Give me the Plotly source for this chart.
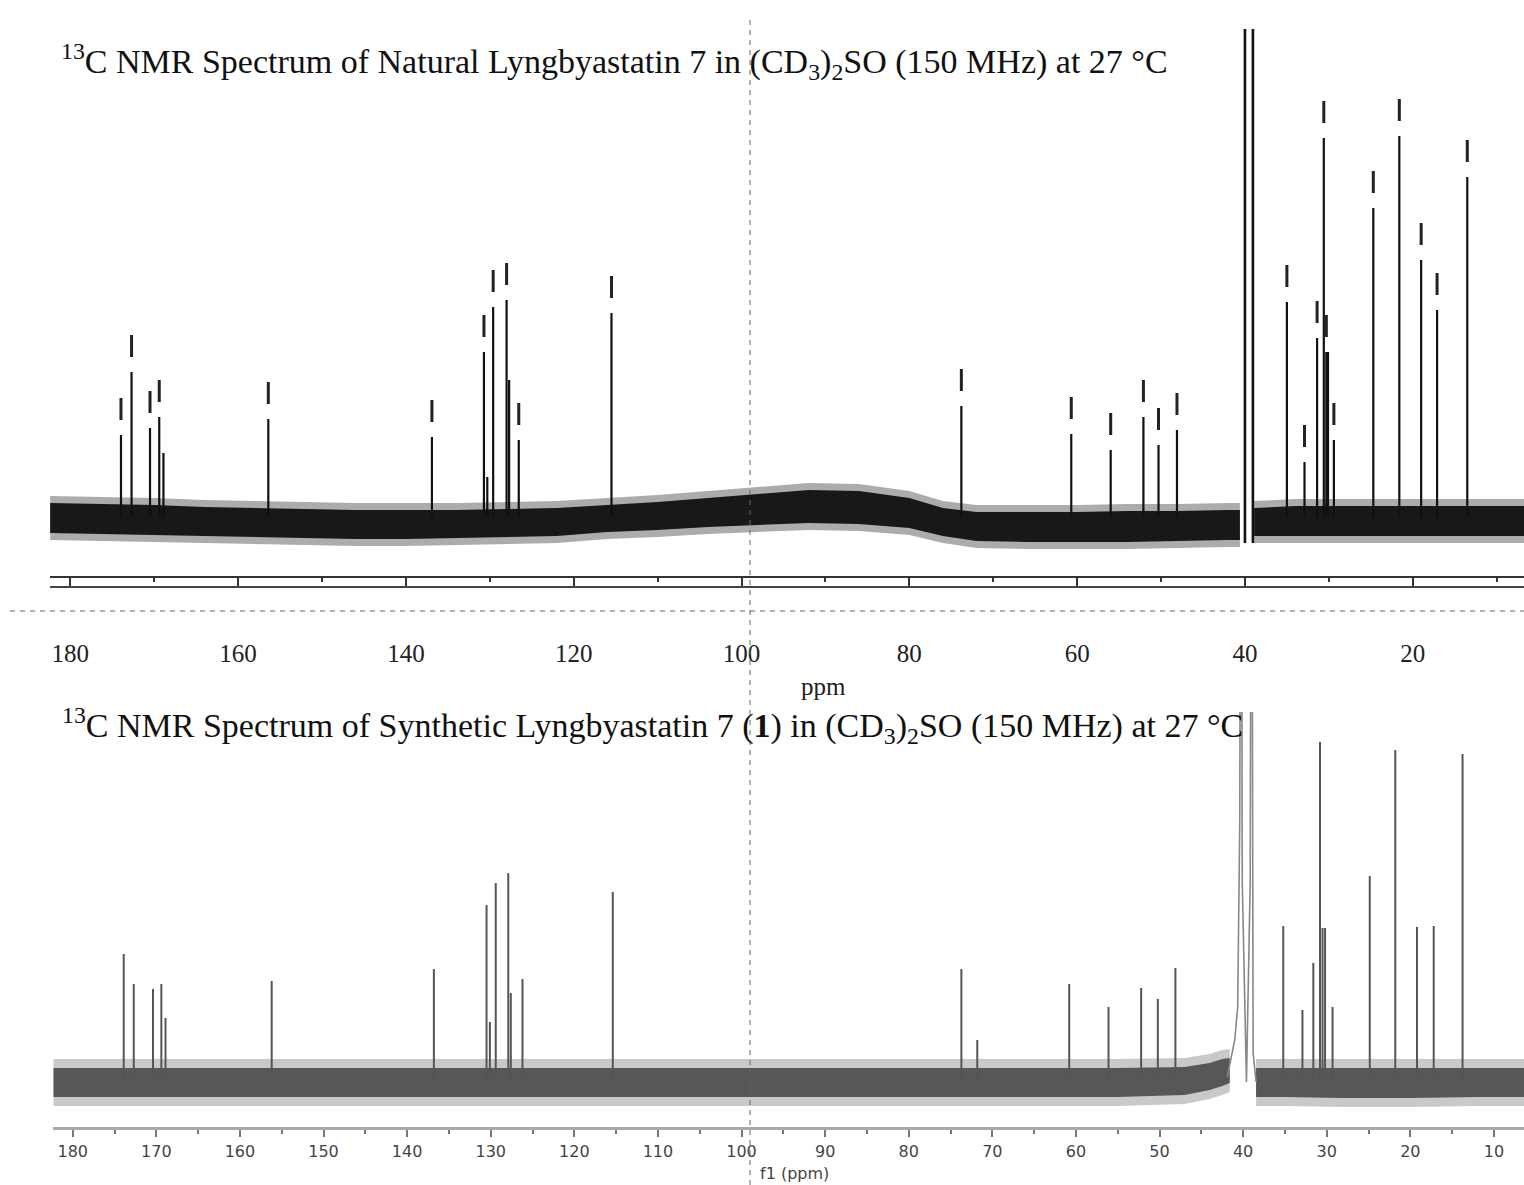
import plotly.graph_objects as go

W, H = 1524, 1185

# ---------------- data: natural (top) spectrum ----------------
nat_ppm = [173.96, 172.7, 170.5, 169.4, 168.9, 156.4, 136.9, 130.7, 130.3, 129.6, 128.0,
           127.7, 126.55, 115.5, 73.8, 60.7, 56.0, 52.1, 50.3, 48.1, 35.0, 32.9, 31.4,
           30.6, 30.3, 30.1, 29.4, 24.7, 21.6, 19.0, 17.1, 13.5]
nat_int = [82, 145, 89, 100, 64, 98, 80, 165, 40, 210, 217,
           137, 77, 204, 111, 83, 67, 100, 72, 87, 215, 55, 179,
           379, 165, 165, 77, 309, 381, 257, 207, 340]
nat_picked = [1, 1, 1, 1, 0, 1, 1, 1, 0, 1, 1,
              0, 1, 1, 1, 1, 1, 1, 1, 1, 1, 1, 1,
              1, 1, 0, 1, 1, 1, 1, 1, 1]
nat_solvent_ppm = [40.0, 39.05]
nat_solvent_low = [-26, -26]
nat_solvent_high = [600, 600]

# noise envelope of the natural spectrum
nat_noise_ppm_a = [182.4, 176, 170, 164, 158, 152, 146, 140, 134, 128, 122, 116, 110, 104,
                   98, 92, 86, 80, 76, 72, 66, 60, 54, 48, 42, 40.6]
nat_noise_up_a = [15, 14, 13, 11, 10, 9, 8, 8, 8, 9, 10, 13, 16, 20,
                  24, 28, 27, 20, 10, 6, 6, 6, 7, 7, 8, 8]
nat_noise_lo_a = [-17, -18, -19, -20, -21, -22, -23, -23, -22, -21, -20, -16, -14, -11,
                  -9, -7, -8, -12, -20, -25, -26, -26, -26, -25, -24, -24]
nat_noise_ppm_b = [38.9, 34, 28, 22, 16, 10, 6.7]
nat_noise_up_b = [10, 12, 12, 12, 12, 12, 12]
nat_noise_lo_b = [-20, -20, -20, -20, -20, -20, -20]

# ---------------- data: synthetic (bottom) spectrum ----------------
syn_ppm = [173.9, 172.7, 170.4, 169.4, 168.9, 156.2, 136.8, 130.5, 130.1, 129.4, 127.9,
           127.6, 126.2, 115.4, 73.7, 71.8, 60.8, 56.1, 52.2, 50.2, 48.1, 35.2, 32.9,
           31.6, 30.8, 30.5, 30.2, 29.3, 24.85, 21.8, 19.2, 17.2, 13.75]
syn_int = [128, 98, 93, 98, 64, 101, 113, 177, 60, 199, 209,
           89, 103, 190, 113, 42, 98, 75, 94, 83, 114, 156, 72,
           119, 340, 154, 154, 75, 206, 332, 155, 156, 328]
syn_solvent_ppm = [41.9, 41.5, 41.0, 40.65, 40.4, 40.25, 40.1, 39.6, 39.15, 39.0, 38.8, 38.45]
syn_solvent_int = [5, 22, 42, 75, 260, 800, 200, 0, 200, 800, 29, 0]

syn_noise_ppm_a = [182.3, 170, 150, 130, 110, 90, 70, 55, 47, 44, 42.5, 41.6]
syn_noise_up_a = [15, 15, 15, 15, 15, 15, 15, 15, 16, 20, 24, 25]
syn_noise_lo_a = [-16, -16, -16, -16, -16, -16, -16, -16, -14, -9, -5, -2]
syn_noise_ppm_b = [38.45, 35, 28, 20, 12, 6.4]
syn_noise_up_b = [15, 15, 15, 15, 15, 15]
syn_noise_lo_b = [-16, -16, -17, -17, -16, -16]

top_ticks = [180, 160, 140, 120, 100, 80, 60, 40, 20]
bot_ticks = [180, 170, 160, 150, 140, 130, 120, 110, 100, 90, 80, 70, 60, 50, 40, 30, 20, 10]

# ---------------- helpers ----------------
def sticks(xs, y0s, y1s):
    X, Y = [], []
    for p, a, b in zip(xs, y0s, y1s):
        X += [p, p, None]
        Y += [a, b, None]
    return X, Y

def band(xs, up, lo, pad=0):
    X = list(xs) + list(xs)[::-1]
    Y = [u + pad for u in up] + [l - pad for l in lo][::-1]
    return X, Y

fig = go.Figure()

# natural noise bands
for (px, pu, pl) in [(nat_noise_ppm_a, nat_noise_up_a, nat_noise_lo_a),
                     (nat_noise_ppm_b, nat_noise_up_b, nat_noise_lo_b)]:
    X, Y = band(px, pu, pl, pad=6)
    fig.add_trace(go.Scatter(x=X, y=Y, fill='toself', fillcolor='rgba(70,70,70,0.45)',
                             line=dict(width=0), mode='lines', xaxis='x', yaxis='y', hoverinfo='skip'))
    X, Y = band(px, pu, pl, pad=-1)
    fig.add_trace(go.Scatter(x=X, y=Y, fill='toself', fillcolor='#181818',
                             line=dict(width=0), mode='lines', xaxis='x', yaxis='y', hoverinfo='skip'))

# natural peaks
X, Y = sticks(nat_ppm, [0] * len(nat_ppm), nat_int)
fig.add_trace(go.Scatter(x=X, y=Y, mode='lines', line=dict(color='#111111', width=2.2),
                         xaxis='x', yaxis='y'))
# peak-pick marks above natural peaks
GAP, LEN = 15, 22
mk_x = [p for p, f in zip(nat_ppm, nat_picked) if f]
mk_h = [h for h, f in zip(nat_int, nat_picked) if f]
X, Y = sticks(mk_x, [h + GAP for h in mk_h], [h + GAP + LEN for h in mk_h])
fig.add_trace(go.Scatter(x=X, y=Y, mode='lines', line=dict(color='#222222', width=3),
                         xaxis='x', yaxis='y'))
# solvent (natural)
X, Y = sticks(nat_solvent_ppm, nat_solvent_low, nat_solvent_high)
fig.add_trace(go.Scatter(x=X, y=Y, mode='lines', line=dict(color='#111111', width=2.6),
                         xaxis='x', yaxis='y'))

# synthetic noise bands
for (px, pu, pl) in [(syn_noise_ppm_a, syn_noise_up_a, syn_noise_lo_a),
                     (syn_noise_ppm_b, syn_noise_up_b, syn_noise_lo_b)]:
    X, Y = band(px, pu, pl, pad=8)
    fig.add_trace(go.Scatter(x=X, y=Y, fill='toself', fillcolor='rgba(120,120,120,0.4)',
                             line=dict(width=0), mode='lines', xaxis='x2', yaxis='y2', hoverinfo='skip'))
    X, Y = band(px, pu, pl, pad=-1)
    fig.add_trace(go.Scatter(x=X, y=Y, fill='toself', fillcolor='#575757',
                             line=dict(width=0), mode='lines', xaxis='x2', yaxis='y2', hoverinfo='skip'))

# synthetic peaks
X, Y = sticks(syn_ppm, [0] * len(syn_ppm), syn_int)
fig.add_trace(go.Scatter(x=X, y=Y, mode='lines', line=dict(color='#555555', width=2),
                         xaxis='x2', yaxis='y2'))
fig.add_trace(go.Scatter(x=syn_solvent_ppm, y=syn_solvent_int, mode='lines',
                         line=dict(color='#888888', width=1.6), xaxis='x2', yaxis='y2'))

def py(row):
    return 1 - row / H

serif = 'Liberation Serif, Times New Roman, serif'
sans = 'DejaVu Sans, Verdana, sans-serif'

fig.update_layout(
    width=W, height=H, margin=dict(l=0, r=0, t=0, b=0),
    paper_bgcolor='white', plot_bgcolor='white', showlegend=False,
    xaxis=dict(domain=[50 / W, 1], range=[182.42, 6.74], anchor='free', position=py(577),
               showgrid=False, zeroline=False, showline=True, linecolor='#333333', linewidth=2,
               ticks='outside', ticklen=10, tickwidth=2, tickcolor='#333333',
               tickvals=top_ticks, ticktext=[str(t) for t in top_ticks],
               ticklabelstandoff=44,
               tickfont=dict(family=serif, size=25, color='#222222'),
               minor=dict(ticks='outside', ticklen=4, tickwidth=2, tickcolor='#333333', dtick=10,
                          tick0=0, showgrid=False)),
    yaxis=dict(domain=[py(620), py(29)], range=[-103, 488], visible=False),
    xaxis2=dict(domain=[53 / W, 1], range=[182.36, 6.40], anchor='y2',
                showgrid=False, zeroline=False, showline=True, linecolor='#a8a8a8', linewidth=3,
                ticks='outside', ticklen=7, tickwidth=1.5, tickcolor='#777777',
                tickvals=bot_ticks, ticktext=[str(t) for t in bot_ticks],
                ticklabelstandoff=1,
                tickfont=dict(family=sans, size=16, color='#444444'),
                minor=dict(ticks='outside', ticklen=4, tickwidth=1.5, tickcolor='#777777', dtick=5,
                           tick0=0, showgrid=False)),
    yaxis2=dict(domain=[py(1127), py(712)], range=[-45, 370], visible=False),
)

# ruler second line and dashed guide lines
fig.add_shape(type='line', xref='paper', yref='y', x0=50 / W, x1=1, y0=-70, y1=-70,
              line=dict(color='#444444', width=2))
fig.add_shape(type='line', xref='paper', yref='paper', x0=750 / W, x1=750 / W, y0=0, y1=py(15),
              line=dict(color='#666666', width=1, dash='5px,5px'))
fig.add_shape(type='line', xref='paper', yref='paper', x0=10 / W, x1=1, y0=py(611), y1=py(611),
              line=dict(color='#666666', width=1, dash='5px,5px'))

title1 = ("<sup>13</sup>C NMR Spectrum of Natural Lyngbyastatin 7 in (CD<sub>3</sub>)<sub>2</sub>SO "
          "(150 MHz) at 27 °C")
title2 = ("<sup>13</sup>C NMR Spectrum of Synthetic Lyngbyastatin 7 (<b>1</b>) in "
          "(CD<sub>3</sub>)<sub>2</sub>SO (150 MHz) at 27 °C")
fig.add_annotation(text=title1, x=59 / W, y=py(62), xref='paper', yref='paper',
                   xanchor='left', yanchor='middle', showarrow=False,
                   font=dict(family=serif, size=34, color='#111111'))
fig.add_annotation(text=title2, x=60 / W, y=py(725), xref='paper', yref='paper',
                   xanchor='left', yanchor='middle', showarrow=False,
                   font=dict(family=serif, size=34, color='#111111'))
fig.add_annotation(text='ppm', x=823 / W, y=py(686), xref='paper', yref='paper',
                   xanchor='center', yanchor='middle', showarrow=False,
                   font=dict(family=serif, size=25, color='#222222'))
fig.add_annotation(text='f1 (ppm)', x=795 / W, y=py(1173), xref='paper', yref='paper',
                   xanchor='center', yanchor='middle', showarrow=False,
                   font=dict(family=sans, size=16, color='#444444'))

fig.write_html("out.html")
